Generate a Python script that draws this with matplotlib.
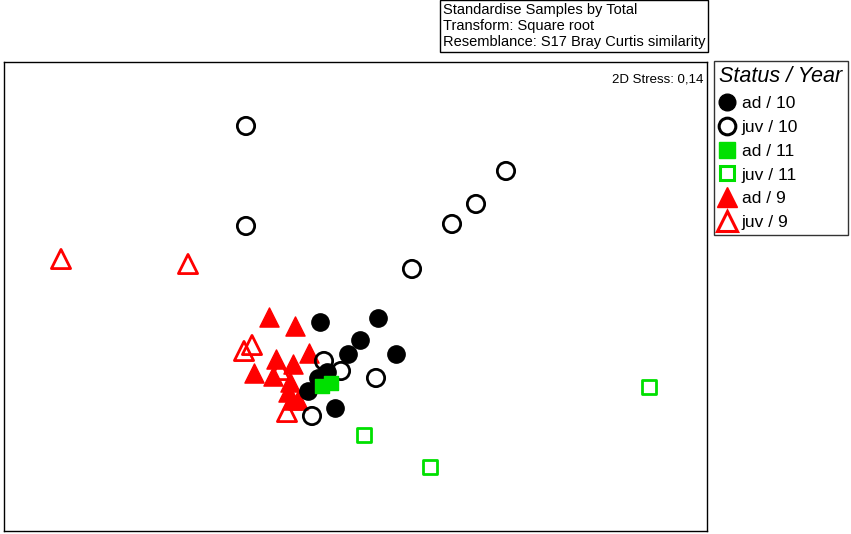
import matplotlib.pyplot as plt
from matplotlib.lines import Line2D

plt.rcParams['font.family'] = ['Liberation Sans', 'DejaVu Sans']

# MDS coordinates (arbitrary units, y grows downward)
ad10_x = [320, 378, 360, 348, 396, 318, 327, 308, 335]
ad10_y = [322, 318, 340, 354, 354, 378, 372, 391, 408]
juv10_x = [246, 246, 506, 476, 452, 412, 376, 341, 324, 312]
juv10_y = [126, 226, 171, 204, 224, 269, 378, 371, 361, 416]
ad11_x = [322, 331]
ad11_y = [386, 383]
juv11_x = [649, 364, 430]
juv11_y = [387, 435, 467]
ad9_x = [269, 295, 309, 254, 276, 293, 273, 290, 288, 298, 292]
ad9_y = [317, 326, 353, 373, 359, 364, 376, 382, 392, 400, 400]
juv9_x = [61, 188, 252, 244, 280, 287]
juv9_y = [259, 264, 345, 351, 370, 412]

green = '#00e000'
red = '#ff0000'

fig = plt.figure(figsize=(8.51, 5.34), dpi=100)
ax = fig.add_axes([4 / 851, 3 / 534, 703 / 851, 469 / 534])

ax.scatter(juv9_x, juv9_y, marker='^', s=190, facecolors='none', edgecolors=red, linewidths=2, zorder=3)
ax.scatter(ad9_x, ad9_y, marker='^', s=190, color=red, zorder=3)
ax.scatter(juv11_x, juv11_y, marker='s', s=90, facecolors='none', edgecolors=green, linewidths=2, zorder=3)
ax.scatter(juv10_x, juv10_y, marker='o', s=155, facecolors='none', edgecolors='black', linewidths=2, zorder=4)
ax.scatter(ad10_x, ad10_y, marker='o', s=155, color='black', zorder=4)
ax.scatter(ad11_x, ad11_y, marker='s', s=95, color=green, zorder=5)

ax.set_xlim(4, 707)
ax.set_ylim(531, 62)
ax.set_xticks([])
ax.set_yticks([])
for sp in ax.spines.values():
    sp.set_linewidth(1.0)

ax.text(0.995, 0.975, '2D Stress: 0,14', transform=ax.transAxes, ha='right', va='top', fontsize=9.5)

fig.text(443 / 851, 1 - 3 / 534,
         'Standardise Samples by Total\nTransform: Square root\nResemblance: S17 Bray Curtis similarity',
         ha='left', va='top', fontsize=10.5, linespacing=1.2,
         bbox=dict(boxstyle='square,pad=0.2', facecolor='white', edgecolor='black', linewidth=1.0))

handles = [
    Line2D([], [], ls='none', marker='o', ms=12, color='black'),
    Line2D([], [], ls='none', marker='o', ms=12, mfc='none', mec='black', mew=2.2),
    Line2D([], [], ls='none', marker='s', ms=11, color=green),
    Line2D([], [], ls='none', marker='s', ms=10, mfc='none', mec=green, mew=2.2),
    Line2D([], [], ls='none', marker='^', ms=15, color=red),
    Line2D([], [], ls='none', marker='^', ms=14, mfc='none', mec=red, mew=2.2),
]
labels = ['ad / 10', 'juv / 10', 'ad / 11', 'juv / 11', 'ad / 9', 'juv / 9']
leg = fig.legend(handles, labels, loc='upper left', bbox_to_anchor=(714 / 851, 1 - 61 / 534),
                 title='Status / Year', fontsize=12.5, title_fontsize=15.5, frameon=True, fancybox=False,
                 handlelength=0.9, handletextpad=0.4, labelspacing=0.5, borderpad=0.3,
                 borderaxespad=0, alignment='left')
leg.get_title().set_fontstyle('italic')
leg.get_frame().set_edgecolor('black')
leg.get_frame().set_linewidth(1.0)

fig.savefig('out.png', dpi=100)
